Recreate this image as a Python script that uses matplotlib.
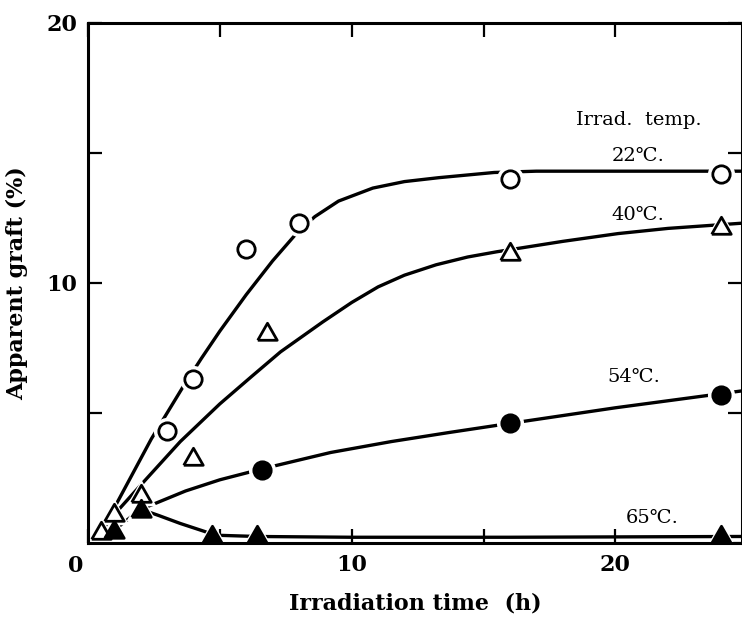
import numpy as np
import matplotlib
matplotlib.use("Agg")
import matplotlib.pyplot as plt

# --- measured points: irradiation time (h) vs apparent graft (%) ---
t22 = [3, 4, 6, 8, 16, 24]
g22 = [4.3, 6.3, 11.3, 12.3, 14.0, 14.2]

t40 = [0.5, 1, 2, 4, 6.8, 16, 24]
g40 = [0.45, 1.15, 1.9, 3.3, 8.1, 11.2, 12.2]

t54 = [6.6, 16, 24]
g54 = [2.8, 4.6, 5.7]

t65 = [1, 2, 4.7, 6.4, 24]
g65 = [0.5, 1.3, 0.3, 0.3, 0.3]

# --- hand-fitted curves ---
c22_t = [0.6, 1.5, 2.4, 3.0, 3.6, 4.3, 5.0, 6.0, 7.0, 7.9, 8.6, 9.5, 10.8, 12.0, 13.3, 15.4, 17.0, 24.8]
c22_g = [0.6, 2.3, 4.0, 5.0, 6.0, 7.1, 8.15, 9.55, 10.85, 11.9, 12.55, 13.15, 13.65, 13.9, 14.05, 14.25, 14.3, 14.3]

c40_t = [0.5, 1.0, 1.8, 2.2, 3.5, 5.0, 6.2, 7.3, 8.9, 10.0, 11.0, 12.0, 13.2, 14.4, 15.5, 18.0, 20.1, 22.0, 24.8]
c40_g = [0.45, 1.1, 2.0, 2.45, 3.9, 5.35, 6.4, 7.35, 8.5, 9.25, 9.85, 10.3, 10.7, 11.0, 11.2, 11.6, 11.9, 12.1, 12.3]

c54_t = [1.0, 2.0, 2.5, 3.7, 5.0, 6.6, 9.2, 11.5, 13.7, 16.0, 20.0, 24.8]
c54_g = [0.5, 1.3, 1.5, 2.0, 2.43, 2.85, 3.48, 3.9, 4.25, 4.6, 5.2, 5.85]

c65_t = [2.0, 2.7, 3.5, 4.4, 4.8, 6.4, 10.0, 16.0, 24.8]
c65_g = [1.3, 1.05, 0.75, 0.45, 0.3, 0.25, 0.22, 0.22, 0.25]

labels = ["22℃.", "40℃.", "54℃.", "65℃."]
label_xy = [(19.85, 14.9), (19.85, 12.6), (19.7, 6.4), (20.4, 0.95)]

serif = ["DejaVu Serif", "Noto Sans CJK JP"]
plt.rcParams['font.family'] = serif

fig = plt.figure(figsize=(7.42, 6.18), dpi=100)
ax = fig.add_axes([0.1186, 0.1214, 0.8814, 0.8414])

tri = [(-1.0, -0.8), (1.0, -0.8), (0.0, 0.95), (-1.0, -0.8)]

lw = 2.4
for ct, cg in [(c22_t, c22_g), (c40_t, c40_g), (c54_t, c54_g), (c65_t, c65_g)]:
    ax.plot(ct, cg, color='k', lw=lw, solid_capstyle='butt', zorder=1.5)

series = [
    (t22, g22, 'o', 'white', 12.5),
    (t40, g40, tri, 'white', 14),
    (t54, g54, 'o', 'black', 12.5),
    (t65, g65, tri, 'black', 14),
]
# white halo under each marker breaks the curve; spines stay on top of it
for t, g, m, fc, ms in series:
    ax.plot(t, g, ls='none', marker=m, ms=ms + 6, mfc='white', mec='white',
            zorder=2, clip_on=False)
for t, g, m, fc, ms in series:
    ax.plot(t, g, ls='none', marker=m, ms=ms, mfc=fc, mec='black', mew=2.0,
            zorder=4, clip_on=False)

for txt, (x, y) in zip(labels, label_xy):
    ax.text(x, y, txt, fontsize=14, ha='left', va='center', family=serif)
ax.text(18.5, 16.25, "Irrad.  temp.", fontsize=14, ha='left', va='center', family=serif)

ax.set_xlim(0, 24.8)
ax.set_ylim(0, 20)

ax.set_xticks([0, 5, 10, 15, 20])
ax.set_xticklabels(["", "", "10", "", "20"])
ax.set_yticks([0, 5, 10, 15, 20])
ax.set_yticklabels(["", "", "10", "", "20"])
ax.tick_params(direction='in', length=10, width=1.6, top=True, right=True,
               labelsize=16, pad=8)
for lab in ax.get_xticklabels() + ax.get_yticklabels():
    lab.set_fontweight('bold')
ax.text(-0.45, -0.9, "0", fontsize=16, fontweight='bold', ha='center', va='center')

for sp in ax.spines.values():
    sp.set_linewidth(2.2)

ax.set_xlabel("Irradiation time  (h)", fontsize=16, fontweight='bold', labelpad=12)
ax.set_ylabel("Apparent graft (%)", fontsize=16, fontweight='bold', labelpad=10)
ax.yaxis.set_label_coords(-0.092, 0.5)

fig.savefig("out.png", dpi=100)
